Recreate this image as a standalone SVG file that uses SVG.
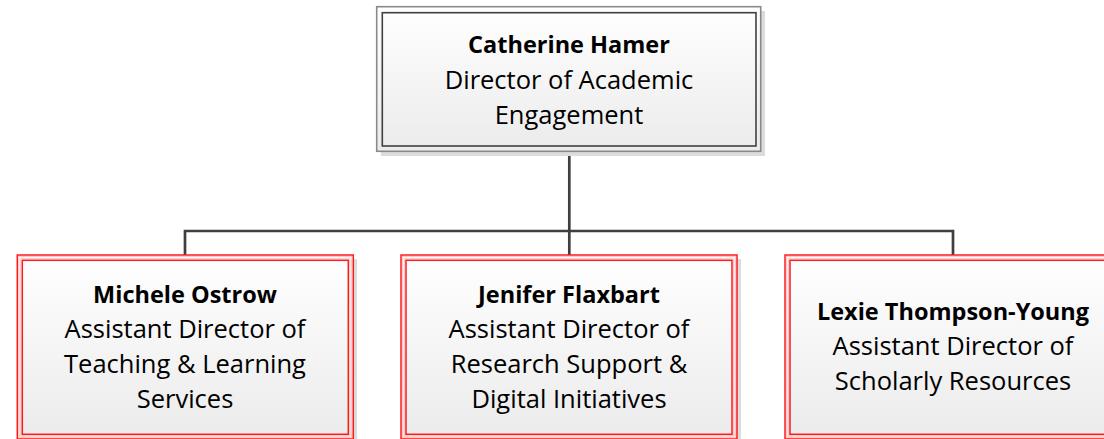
<svg xmlns="http://www.w3.org/2000/svg" width="1104" height="439" viewBox="0 0 1104 439">
<style>
.shadow{fill:#dcdcdc;stroke:none}
.fillg{fill:url(#g)}
.topout{fill:none;stroke:#8a8a8a;stroke-width:1.6}
.topin{fill:none;stroke:#404040;stroke-width:1.6}
.redout{fill:none;stroke:#ff1a1a;stroke-width:1.5}
.redin{fill:none;stroke:#ff1a1a;stroke-width:1.5}
.pink{fill:none;stroke:#ffc4c4;stroke-width:1}
.conn{fill:none;stroke:#3f3f3f;stroke-width:2.7}
text{font-family:"Open Sans","Noto Sans","Liberation Sans",sans-serif;fill:#000;text-anchor:middle}
.b{font-weight:bold;font-size:23.5px}
.r{font-size:25.5px}
</style>
<defs>
<linearGradient id="g" x1="0" y1="0" x2="0" y2="1">
<stop offset="0" stop-color="#ffffff"/>
<stop offset="1" stop-color="#ebebeb"/>
</linearGradient>
</defs>
<g id="connectors">
<path class="conn" d="M569.3 151 V231"/>
<path class="conn" d="M185 255 V231 H953 V255"/>
<path class="conn" d="M569.3 231 V255"/>
</g>
<g id="catherine">
<rect class="shadow" x="381" y="11" width="384" height="145"/>
<rect class="fillg" x="376.7" y="6.7" width="384" height="144.6"/>
<rect class="topout" x="376.7" y="6.7" width="384" height="144.6"/>
<rect class="topin" x="382.3" y="12.7" width="373.7" height="133.3"/>
<text class="b" x="569" y="53">Catherine Hamer</text>
<text class="r" x="569" y="89">Director of Academic</text>
<text class="r" x="569" y="124">Engagement</text>
</g>
<g id="michele">
<rect class="shadow" x="21" y="259" width="336" height="185"/>
<rect class="fillg" x="17.3" y="255" width="336" height="184"/>
<rect class="pink" x="18.9" y="256.6" width="332.8" height="181"/>
<rect class="redout" x="17.3" y="255" width="336" height="184"/>
<rect class="pink" x="20.7" y="258.7" width="329.2" height="177.2"/>
<rect class="redin" x="22.3" y="260.3" width="326" height="174"/>
<text class="b" x="185" y="303.3">Michele Ostrow</text>
<text class="r" x="185" y="338.3">Assistant Director of</text>
<text class="r" x="185" y="373.3">Teaching &amp; Learning</text>
<text class="r" x="185" y="408.3">Services</text>
</g>
<g id="jenifer">
<rect class="shadow" x="405" y="259" width="336" height="185"/>
<rect class="fillg" x="401" y="255" width="336" height="184"/>
<rect class="pink" x="402.6" y="256.6" width="332.8" height="181"/>
<rect class="redout" x="401" y="255" width="336" height="184"/>
<rect class="pink" x="404.4" y="258.7" width="329.2" height="177.2"/>
<rect class="redin" x="406" y="260.3" width="326" height="174"/>
<text class="b" x="569" y="303.3">Jenifer Flaxbart</text>
<text class="r" x="569" y="338.3">Assistant Director of</text>
<text class="r" x="569" y="373.3">Research Support &amp;</text>
<text class="r" x="569" y="408.3">Digital Initiatives</text>
</g>
<g id="lexie">
<rect class="shadow" x="789" y="259" width="336" height="185"/>
<rect class="fillg" x="785" y="255" width="336" height="184"/>
<rect class="pink" x="786.6" y="256.6" width="332.8" height="181"/>
<rect class="redout" x="785" y="255" width="336" height="184"/>
<rect class="pink" x="788.4" y="258.7" width="329.2" height="177.2"/>
<rect class="redin" x="790" y="260.3" width="326" height="174"/>
<text class="b" x="953" y="320">Lexie Thompson-Young</text>
<text class="r" x="953" y="355">Assistant Director of</text>
<text class="r" x="953" y="390">Scholarly Resources</text>
</g>
</svg>
